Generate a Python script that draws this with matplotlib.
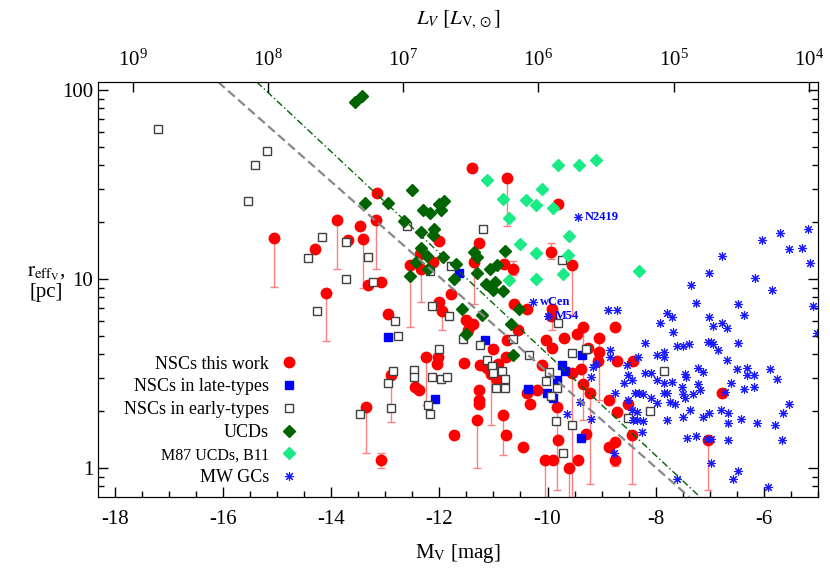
import numpy as np
import matplotlib
matplotlib.use("Agg")
import matplotlib.pyplot as plt
from matplotlib.ticker import FixedLocator, MultipleLocator, LogLocator, NullFormatter, NullLocator

plt.rcParams['font.family'] = ['Liberation Serif', 'DejaVu Serif']
plt.rcParams['mathtext.fontset'] = 'stix'
plt.rcParams['axes.unicode_minus'] = False

# NSCs this work: M_V, r_eff, lower / upper end of error bar
nsc_mv = [-15.06, -14.30, -13.90, -13.47, -13.69, -13.42, -13.16, -13.18, -13.32, -13.08,
          -14.10, -12.94, -12.90, -13.36, -13.08, -11.40, -10.75, -9.81, -12.01, -11.27,
          -11.36, -9.94, -9.55, -10.64, -10.81, -12.36, -12.55, -12.33, -12.12, -11.79,
          -12.01, -11.96, -11.51, -11.47, -11.38, -10.62, -10.38, -9.92, -9.94, -10.55,
          -10.74, -10.03, -9.70, -9.92, -9.46, -9.35, -9.26, -9.04, -8.76, -9.04,
          -8.72, -11.01, -11.25, -11.12, -10.92, -10.77, -11.05, -10.94, -12.25, -12.05,
          -12.03, -11.55, -12.45, -12.38, -11.27, -11.27, -11.27, -11.31, -10.83, -10.77,
          -11.73, -10.46, -10.38, -10.33, -10.20, -10.11, -9.83, -9.81, -10.05, -9.89,
          -9.61, -9.44, -9.39, -9.35, -9.22, -9.28, -9.07, -8.76, -8.76, -8.87,
          -8.72, -8.42, -6.77, -7.04, -8.44, -8.87, -9.54, -8.52]
nsc_re = [16.5, 14.4, 20.5, 19.1, 16.1, 16.3, 28.5, 20.5, 9.3, 9.6,
          8.4, 6.5, 3.1, 2.1, 1.1, 38.7, 34.2, 24.9, 15.9, 15.5,
          12.3, 13.9, 11.9, 11.3, 12.0, 13.6, 11.9, 11.3, 12.3, 8.3,
          7.55, 6.8, 6.1, 5.4, 5.8, 7.4, 6.9, 6.9, 6.4, 5.4,
          4.75, 4.75, 4.9, 4.3, 5.1, 5.6, 4.3, 4.9, 5.6, 4.1,
          3.7, 4.26, 3.5, 3.4, 3.55, 3.87, 3.14, 2.92, 3.87, 3.55,
          3.87, 3.6, 2.7, 2.6, 2.6, 2.3, 2.18, 1.8, 1.9, 1.5,
          1.5, 1.3, 2.5, 2.18, 2.59, 3.5, 2.1, 1.4, 1.1, 1.1,
          1.0, 1.1, 3.34, 2.78, 2.5, 1.51, 3.68, 1.37, 1.1, 2.29,
          1.98, 3.68, 2.49, 1.41, 1.5, 1.29, 3.18, 2.18]
nsc_lo = [9.1, 14.4, 11.3, 19.1, 16.1, 9.0, 28.5, 11.3, 9.3, 9.6,
          4.7, 6.5, 1.75, 1.2, 1.0, 38.7, 19.1, 24.9, 15.9, 15.5,
          7.4, 12.8, 6.45, 10.5, 12.0, 13.6, 5.6, 7.55, 12.3, 8.3,
          7.55, 5.4, 6.1, 5.4, 5.8, 7.4, 6.9, 5.4, 6.4, 5.4,
          4.75, 4.75, 4.9, 4.3, 5.1, 1.8, 4.3, 2.29, 5.6, 4.1,
          3.7, 4.26, 3.5, 3.4, 3.55, 3.87, 1.7, 2.92, 2.15, 3.55,
          3.87, 3.6, 2.7, 2.6, 2.6, 2.3, 2.18, 1.0, 1.17, 1.5,
          1.5, 1.3, 2.5, 2.18, 2.59, 3.5, 0.77, 1.4, 0.65, 1.1,
          0.65, 1.1, 3.34, 2.78, 0.82, 1.51, 3.68, 1.37, 1.02, 2.29,
          1.98, 3.68, 2.49, 0.77, 0.82, 1.29, 0.65, 2.18]
nsc_hi = list(nsc_re)
nsc_hi[14] = 1.2
nsc_hi[21] = 15.5
nsc_hi[23] = 12.4
nsc_hi[88] = 1.2

# NSCs in late-type galaxies
late_mv = [-12.95, -11.64, -11.16, -12.08, -10.37, -10.01, -9.90, -9.83, -9.74, -9.68, -9.37, -9.39]
late_re = [4.93, 10.8, 4.76, 2.32, 2.62, 2.5, 2.35, 2.92, 3.5, 3.26, 3.96, 1.44]

# NSCs in early-type galaxies
early_mv = [-17.2, -15.19, -15.41, -15.54, -14.16, -13.73, -14.43, -13.31, -13.73, -13.23,
            -14.27, -12.82, -12.77, -12.86, -12.94, -12.90, -13.47, -12.60, -11.20, -11.79,
            -12.18, -9.74, -12.14, -11.83, -11.57, -11.25, -12.01, -9.81, -10.64, -10.35,
            -9.55, -9.29, -11.11, -11.03, -11.01, -10.85, -10.79, -12.47, -12.47, -12.14,
            -11.97, -11.86, -12.21, -12.18, -10.96, -10.79, -9.98, -10.03, -9.83, -9.94,
            -9.85, -9.55, -9.72, -8.52, -8.11, -7.85]
early_re = [62, 47.5, 40, 25.9, 16.7, 15.7, 12.9, 13.1, 10.0, 9.6,
            6.8, 6.0, 5.0, 3.26, 2.82, 2.08, 1.93, 19.1, 18.4, 11.7,
            11.0, 12.6, 7.2, 6.4, 4.8, 4.5, 4.26, 5.85, 4.8, 3.96,
            4.06, 4.26, 3.73, 3.47, 3.18, 3.26, 2.96, 3.3, 3.03, 3.03,
            2.96, 3.03, 2.15, 1.93, 2.65, 2.65, 3.22, 2.89, 2.65, 2.4,
            1.77, 1.69, 1.2, 1.84, 2.0, 3.26]

# UCDs
ucd_mv = [-13.56, -13.43, -13.38, -12.94, -12.51, -12.31, -12.18, -12.01, -11.92, -11.97,
          -12.66, -12.33, -12.09, -12.12, -12.33, -12.23, -12.44, -12.21, -12.55, -11.94,
          -11.70, -11.72, -11.35, -11.31, -11.31, -10.79, -11.07, -10.94, -11.14, -10.98,
          -11.01, -10.83, -11.59, -11.22, -10.53, -10.68, -11.51, -10.64]
ucd_re = [86, 93, 25.2, 25.2, 29.6, 23.2, 22.4, 24.9, 25.9, 23.2,
          20.3, 17.7, 18.4, 17.1, 14.6, 13.2, 12.3, 11.3, 10.4, 13.1,
          12.0, 10.0, 13.9, 13.1, 10.8, 14.1, 11.3, 11.9, 9.4, 9.6,
          8.7, 8.6, 6.9, 6.45, 6.9, 5.8, 5.1, 3.96]

# M87 UCDs, B11
m87_mv = [-11.11, -10.83, -10.40, -10.22, -10.11, -9.90, -9.81, -9.42, -9.11, -10.72,
          -10.51, -10.22, -9.61, -9.63, -9.72, -10.72, -10.22, -8.30]
m87_re = [33.4, 26.5, 26.2, 24.7, 29.9, 23.8, 40, 40, 42.6, 21,
          15.3, 13.7, 16.9, 13.4, 10.6, 9.9, 10.0, 11.0]

# Milky Way globular clusters
gc_mv = [-8.89, -8.72, -8.85, -8.19, -8.32, -8.54, -8.52, -8.44, -8.59, -8.76,
         -8.52, -8.39, -8.30, -8.24, -8.44, -8.35, -8.35, -8.24, -8.26, -8.19,
         -8.08, -7.98, -7.85, -7.85, -7.93, -7.80, -7.70, -7.68, -7.98, -7.85,
         -7.70, -8.08, -7.97, -7.85, -7.80, -7.74, -7.65, -7.80, -7.61, -7.49,
         -7.39, -7.46, -7.44, -7.52, -7.49, -7.45, -7.32, -7.37, -7.50, -7.43,
         -7.61, -7.34, -7.25, -7.21, -7.13, -7.21, -7.19, -7.13, -7.02, -7.25,
         -7.06, -6.97, -6.97, -7.01, -7.01, -6.95, -7.04, -6.97, -6.95, -6.85,
         -6.78, -6.78, -6.69, -6.69, -6.72, -6.80, -6.67, -6.67, -6.67, -6.61,
         -6.57, -6.47, -6.37, -6.47, -6.50, -6.32, -6.32, -6.37, -6.19, -6.19,
         -6.43, -6.47, -6.13, -6.17, -6.04, -5.93, -5.89, -5.80, -5.75, -5.85,
         -5.71, -5.54, -5.54, -5.64, -5.67, -5.30, -5.19, -5.15, -5.10, -5.02,
         -8.85, -9.16, -9.10, -9.20, -9.40, -9.64, -9.20, -8.42, -8.78,
         -9.44, -10.27, -10.00]
gc_re = [6.86, 6.86, 4.21, 4.59, 3.87, 3.51, 3.10, 2.92, 2.82, 2.49,
         2.29, 2.49, 2.49, 2.46, 2.03, 1.98, 1.80, 1.77, 1.55, 3.18,
         3.18, 3.96, 4.11, 3.87, 5.85, 6.61, 6.29, 5.24, 2.92, 2.82,
         2.85, 2.35, 2.21, 2.49, 2.49, 2.23, 2.18, 1.80, 4.42, 4.42,
         4.53, 3.14, 3.03, 2.68, 2.46, 2.35, 2.46, 2.03, 1.86, 1.44,
         0.875, 9.30, 7.46, 3.38, 3.22, 2.78, 2.59, 1.86, 1.95, 1.48,
         1.42, 1.42, 1.06, 10.8, 6.29, 5.64, 4.64, 4.64, 4.53, 4.21,
         13.2, 5.85, 5.51, 3.73, 2.52, 2.03, 1.95, 1.73, 1.41, 2.82,
         0.875, 7.38, 6.45, 4.59, 3.34, 3.38, 3.10, 2.62, 3.10, 2.68,
         1.82, 0.96, 1.73, 10.1, 16.1, 0.79, 3.34, 1.69, 2.96, 8.75,
         17.5, 14.4, 2.18, 1.95, 1.41, 14.6, 18.4, 12.2, 7.2, 5.18,
         3.87, 3.42, 3.55, 3.03, 2.23, 1.93, 1.82, 1.80, 1.2,
         21.3, 7.55, 6.37]
gc_names = ['N2419', 'wCen', 'M54']
gc_named_mv = [-9.44, -10.27, -10.00]
gc_named_re = [21.3, 7.55, 6.37]

# reference relations (two end points each)
rel1_mv = [-16.09, -7.38]
rel1_re = [110.2, 0.703]
rel2_mv = [-15.375, -7.18]
rel2_re = [110.2, 0.703]

msun_v = 4.83
xmin, xmax = -18.31, -5.0
ymin, ymax = 0.703, 110.2

fig = plt.figure(figsize=(8.3, 5.81), dpi=100)
ax = fig.add_axes([98 / 830, 84 / 581, 720 / 830, 415 / 581])

# error bars
nsc_mv_a = np.array(nsc_mv)
nsc_re_a = np.array(nsc_re)
lo = nsc_re_a - np.array(nsc_lo)
hi = np.array(nsc_hi) - nsc_re_a
has_bar = (lo > 0) | (hi > 0)
ax.errorbar(nsc_mv_a[has_bar], nsc_re_a[has_bar], yerr=[lo[has_bar], hi[has_bar]],
            fmt='none', ecolor='#ff8080', elinewidth=1, capsize=3, capthick=1, zorder=1)

ax.plot(nsc_mv, nsc_re, 'o', ms=7.5, color='#ff0000', mec='#ff0000', ls='none',
        label='NSCs this work', zorder=3)
ax.plot(late_mv, late_re, 's', ms=6, color='#0000ff', mec='#0000ff', ls='none',
        label='NSCs in late-types', zorder=4)
ax.plot(early_mv, early_re, 's', ms=5.5, mfc='white', mec='#404040', mew=1, ls='none',
        label='NSCs in early-types', zorder=4)
ax.plot(ucd_mv, ucd_re, 'D', ms=6.5, color='#006400', mec='#006400', ls='none',
        label='UCDs', zorder=5)
ax.plot(m87_mv, m87_re, 'D', ms=6.5, color='#1aeb86', mec='#1aeb86', ls='none',
        label='M87 UCDs, B11', zorder=5)
ax.plot(gc_mv, gc_re, ls='none', marker=(8, 2, 0), ms=6.5, mew=0.8, color='#1a1aff',
        label='MW GCs', zorder=6)

for name, mv, re in zip(gc_names, gc_named_mv, gc_named_re):
    ax.annotate(name, (mv, re), xytext=(5, 0), textcoords='offset points', va='center',
                ha='left', color='#0000ff', fontsize=9, fontweight='bold')

ax.plot(rel1_mv, rel1_re, color='#888888', lw=1.6, dashes=(4, 2), zorder=7)
ax.plot(rel2_mv, rel2_re, color='#006400', lw=1.0, dashes=(5, 2, 1, 2), zorder=7)

ax.set_yscale('log')
ax.set_xlim(xmin, xmax)
ax.set_ylim(ymin, ymax)
ax.yaxis.set_major_locator(FixedLocator([1, 10, 100]))
ax.set_yticklabels(['1', '10', '100'])
ax.yaxis.set_minor_locator(LogLocator(base=10, subs=np.arange(2, 10)))
ax.yaxis.set_minor_formatter(NullFormatter())
ax.xaxis.set_major_locator(MultipleLocator(2))
ax.xaxis.set_minor_locator(MultipleLocator(0.5))
ax.tick_params(which='both', direction='in', top=False, right=True, labelsize=15, width=1)
ax.tick_params(which='major', length=7)
ax.tick_params(which='minor', length=4)
ax.tick_params(axis='x', pad=9)
ax.set_xlabel(r'M$_\mathrm{V}$ [mag]', fontsize=15, labelpad=10)
ax.text(-0.072, 0.515, '$\\mathrm{r}_{\\mathrm{eff}_\\mathrm{V}}$,\n[pc]', transform=ax.transAxes,
        ha='center', va='center', fontsize=15, linespacing=1.0)

# luminosity axis on top
ax2 = ax.twiny()
ax2.set_xscale('log')
ax2.set_xlim(10 ** ((msun_v - xmin) / 2.5), 10 ** ((msun_v - xmax) / 2.5))
ax2.xaxis.set_major_locator(LogLocator(base=10, numticks=10))
ax2.xaxis.set_minor_locator(NullLocator())
ax2.tick_params(which='both', direction='in', labelsize=15, length=7, width=1, pad=8)
ax2.set_xlabel(r'$L_V\ [L_{\mathrm{V},\odot}]$', fontsize=15, labelpad=18)

leg = ax.legend(loc='lower right', bbox_to_anchor=(0.29, 0.0), markerfirst=False, frameon=False,
                fontsize=13, numpoints=1, handlelength=0.8, handletextpad=0.7,
                labelspacing=0.32, borderaxespad=0.2)
leg.get_texts()[4].set_fontsize(11.5)

fig.savefig('out.png', dpi=100)
